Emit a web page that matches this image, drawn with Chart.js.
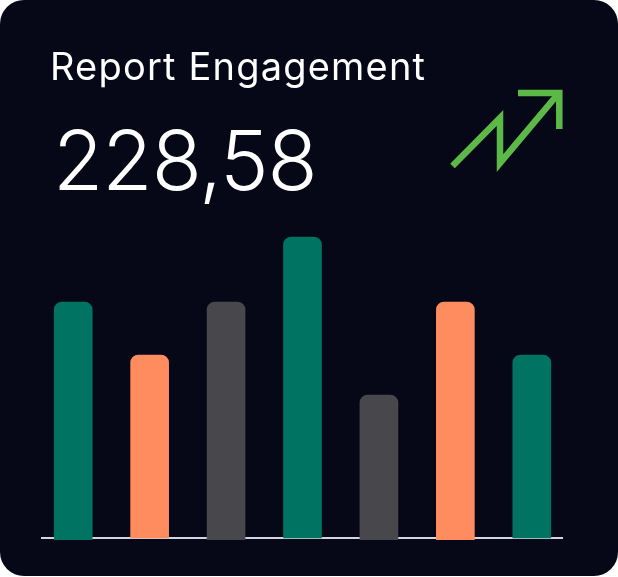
<!DOCTYPE html>
<html>
<head>
<meta charset="utf-8">
<script src="https://cdn.jsdelivr.net/npm/chart.js@4"></script>
<style>
  html, body { margin: 0; padding: 0; background: #fff; }
  #card { position: relative; width: 618px; height: 576px; background: #060817; border-radius: 24px; overflow: hidden; }
  #titulo { position: absolute; left: 50px; top: 44px; color: #fff; font: 400 38px Inter, sans-serif; letter-spacing: 1.2px; line-height: 44px; white-space: nowrap; }
  #valor { position: absolute; left: 53px; top: 111px; color: #fff; font: 300 82px Inter, sans-serif; letter-spacing: -1px; line-height: 100px; white-space: nowrap; }
  #seta { position: absolute; left: 0; top: 0; }
  #grafico { position: absolute; left: 0; top: 0; }
</style>
</head>
<body>
<div id="card">
  <canvas id="grafico" width="618" height="576"></canvas>
  <div id="titulo">Report Engagement</div>
  <div id="valor">228,58</div>
  <svg id="seta" width="618" height="200" fill="none" stroke="#5cb947" stroke-width="6.5" stroke-miterlimit="10">
    <polyline points="452.5,166 500,118 500,163 558,94"></polyline>
    <polyline points="518,93 559.3,93 559.3,129"></polyline>
  </svg>
</div>
<script>
// dados
const categorias = ['A', 'B', 'C', 'D', 'E', 'F', 'G'];
const valores = [236, 183, 236, 301, 143, 236, 183];
const bases = [-2, 0, -2, 0, -2, -2, 0];
const cores = ['#007362', '#ff8c5f', '#48484c', '#007362', '#48484c', '#ff8c5f', '#007362'];

// linha de base, desenhada antes das barras
const linhaBase = {
    id: 'linhaBase',
    beforeDatasetsDraw(chart) {
        const ctx = chart.ctx;
        const y = chart.scales.y.getPixelForValue(0);
        ctx.save();
        ctx.strokeStyle = '#d4d4e4';
        ctx.lineWidth = 2;
        ctx.beginPath();
        ctx.moveTo(41, y);
        ctx.lineTo(563, y);
        ctx.stroke();
        ctx.restore();
    }
};

new Chart(document.getElementById('grafico'), {
    type: 'bar',
    data: {
        labels: categorias,
        datasets: [{
            data: valores.map((v, i) => [bases[i], v]),
            backgroundColor: cores,
            barThickness: 38,
            borderRadius: { topLeft: 8, topRight: 8, bottomLeft: 0, bottomRight: 0 },
            borderSkipped: false
        }]
    },
    options: {
        responsive: false,
        animation: false,
        layout: { padding: { left: 35, right: 48, top: 218, bottom: 36 } },
        plugins: { legend: { display: false }, tooltip: { enabled: false } },
        scales: {
            x: { display: false },
            y: { display: false, min: -2, max: 320 }
        }
    },
    plugins: [linhaBase]
});
</script>
</body>
</html>
